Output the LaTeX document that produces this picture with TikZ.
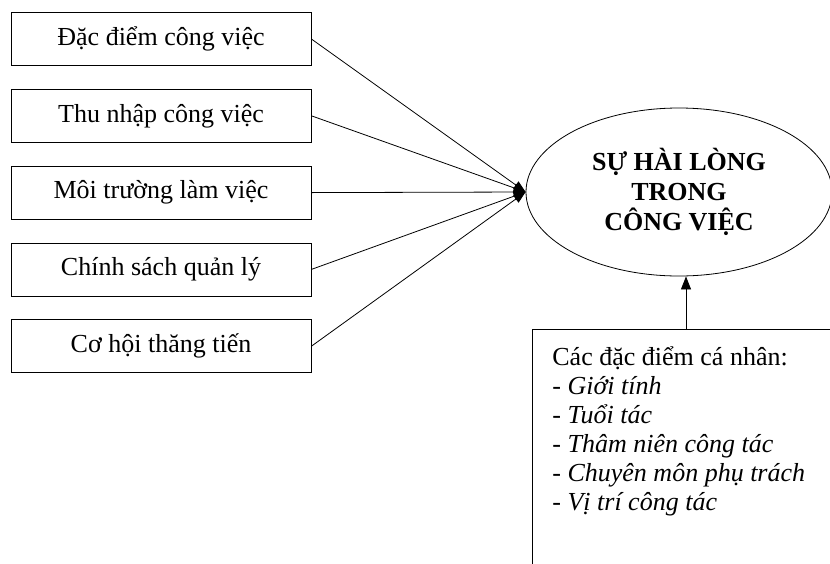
\documentclass[tikz,border=0pt]{standalone}
\usepackage{fontspec}
\setmainfont{Liberation Serif}
\usetikzlibrary{positioning, arrows.meta, shapes.geometric}

\begin{document}
\begin{tikzpicture}[x=1pt, y=-1pt, node distance=23pt, line width=0.8pt,
        >={Triangle[length=12pt, width=9pt]}]
        \tikzset{factor/.style={draw, minimum width=300pt, minimum height=53pt,
                font=\fontsize{26}{30}\selectfont}}
        \useasboundingbox (0,0) rectangle (830,563);

        % các yếu tố bên trái
        \node[factor] (f1) at (161,39) {Đặc điểm công việc};
        \node[factor, below=of f1] (f2) {Thu nhập công việc};
        \node[factor, below=of f2] (f3) {Môi trường làm việc};
        \node[factor, below=of f3] (f4) {Chính sách quản lý};
        \node[factor, below=of f4] (f5) {Cơ hội thăng tiến};

        % hình elip ở giữa
        \node[draw, ellipse, minimum width=306pt, minimum height=168pt, align=center,
            font=\bfseries\fontsize{26}{30}\selectfont] (sat) at (679,192)
            {SỰ HÀI LÒNG\\TRONG\\CÔNG VIỆC};

        \draw[->] (f1.east) -- (sat.west);
        \draw[->] (f2.east) -- (sat.west);
        \draw[->] (f3.east) -- (sat.west);
        \draw[->] (f4.east) -- (sat.west);
        \draw[->] (f5.east) -- (sat.west);

        % khung đặc điểm cá nhân
        \node[draw, anchor=north west, inner xsep=20pt, inner ysep=17pt] (traits) at (532,329) {
            \begin{minipage}[t][240pt][t]{300pt}
                \fontsize{26}{29}\selectfont\raggedright
                Các đặc điểm cá nhân:\\
                \textit{- Giới tính}\\
                \textit{- Tuổi tác}\\
                \textit{- Thâm niên công tác}\\
                \textit{- Chuyên môn phụ trách}\\
                \textit{- Vị trí công tác}
            \end{minipage}
        };
        \draw[->, >={Triangle[length=13pt, width=10pt]}] (traits.north -| 686,0) -- (686,0 |- sat.south);

    \end{tikzpicture}
\end{document}
